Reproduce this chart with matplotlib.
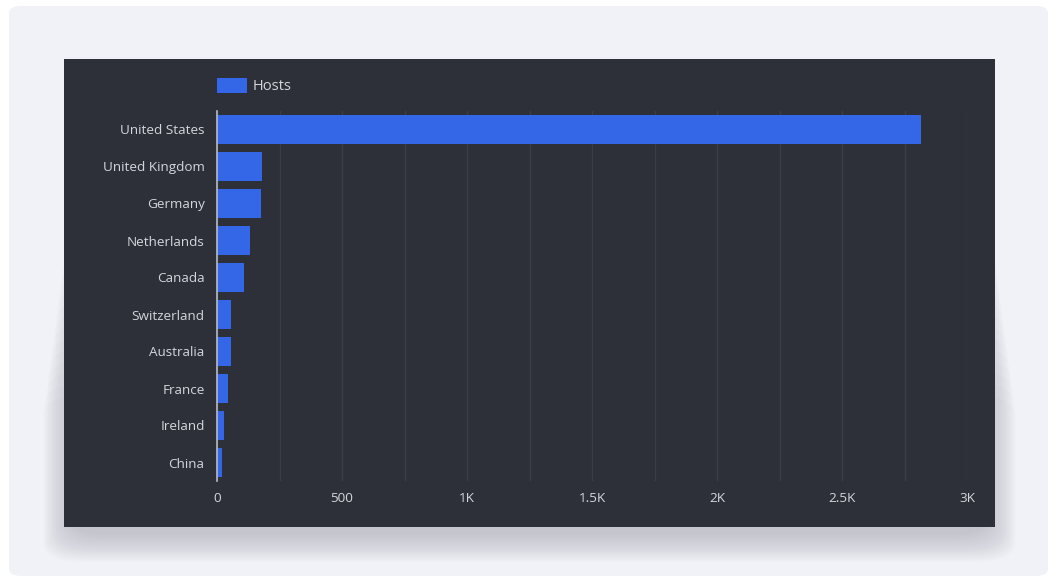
import matplotlib
matplotlib.use("Agg")
import matplotlib.pyplot as plt
from matplotlib.patches import FancyBboxPatch, Rectangle
from matplotlib.ticker import MultipleLocator

countries = ["United States", "United Kingdom", "Germany", "Netherlands", "Canada",
             "Switzerland", "Australia", "France", "Ireland", "China"]
hosts = [2815, 179, 175, 131, 108, 57, 57, 43, 28, 20]
xticks = [0, 500, 1000, 1500, 2000, 2500, 3000]
xtick_labels = ["0", "500", "1K", "1.5K", "2K", "2.5K", "3K"]
series_name = "Hosts"

plt.rcParams['font.family'] = ['Open Sans', 'DejaVu Sans']

W, H = 1057, 578
fig = plt.figure(figsize=(W / 100, H / 100), dpi=100)
fig.patch.set_facecolor("white")

def fx(px):
    return px / W

def fy(py):
    return 1 - py / H

# card background
card = FancyBboxPatch((fx(9), fy(576)), fx(1048) - fx(9), fy(6) - fy(576),
                      boxstyle="round,pad=0,rounding_size=0.012",
                      transform=fig.transFigure, facecolor="#f1f2f7",
                      edgecolor="none", zorder=0)
fig.patches.append(card)

# soft shadow under the dark panel (many faint layers, fading upward)
n = 18
for i in range(n):
    k = n - i
    grow = k * 1.6
    top = 180 + k * 12
    bottom = 527 + 6 + grow
    sh = FancyBboxPatch((fx(64 + 8 - grow), fy(bottom)),
                        (931 - 16 + 2 * grow) / W, (bottom - top) / H,
                        boxstyle="round,pad=0,rounding_size=0.035",
                        transform=fig.transFigure, facecolor="#5a5a66",
                        alpha=0.015, edgecolor="none", zorder=0.5)
    fig.patches.append(sh)

# dark panel
panel = Rectangle((fx(64), fy(527)), fx(995) - fx(64), fy(59) - fy(527),
                  transform=fig.transFigure, facecolor="#2d3039",
                  edgecolor="none", zorder=1)
fig.patches.append(panel)

ax = fig.add_axes([fx(217), fy(481), fx(967) - fx(217), fy(111) - fy(481)])
ax.set_facecolor("none")
ax.set_zorder(2)

bar_color = "#3466e8"
ypos = list(range(len(countries)))
ax.barh(ypos, hosts, height=0.79, color=bar_color, zorder=3)
ax.set_ylim(len(countries) - 0.5, -0.5)
ax.set_xlim(0, 3000)

ax.set_yticks(ypos)
ax.set_yticklabels(countries)
ax.set_xticks(xticks)
ax.set_xticklabels(xtick_labels)
ax.xaxis.set_minor_locator(MultipleLocator(250))

txt_color = "#d4d6dc"
ax.tick_params(axis="y", length=0, pad=9, labelsize=9.7, labelcolor=txt_color)
ax.tick_params(axis="x", length=0, pad=8, labelsize=9.7, labelcolor=txt_color)
ax.tick_params(axis="x", which="minor", length=0)

ax.grid(axis="x", which="both", color="#3b3e48", linewidth=1, zorder=0)
ax.grid(axis="y", visible=False)
for s in ["top", "right", "bottom"]:
    ax.spines[s].set_visible(False)
ax.spines["left"].set_color("#b8bcc6")
ax.spines["left"].set_linewidth(1.2)
ax.spines["left"].set_zorder(4)

# legend
fig.patches.append(Rectangle((fx(217), fy(93)), fx(30), 15 / H,
                             transform=fig.transFigure, facecolor=bar_color,
                             edgecolor="none", zorder=3))
fig.text(fx(253), fy(86), series_name, color=txt_color, fontsize=10.5,
         va="center", ha="left", zorder=3)

fig.savefig("out.png", dpi=100, facecolor="white")
